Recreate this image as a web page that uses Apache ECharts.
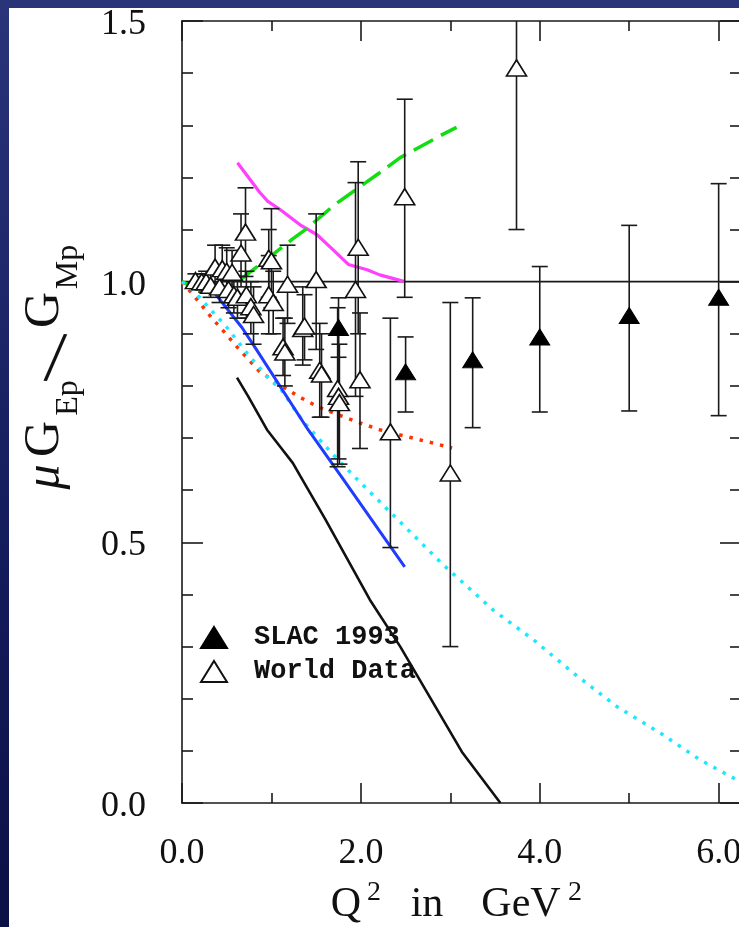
<!DOCTYPE html>
<html><head><meta charset="utf-8">
<script src="https://cdn.jsdelivr.net/npm/echarts@6/dist/echarts.min.js"></script>
<style>
html,body{margin:0;padding:0;width:739px;height:927px;overflow:hidden;}
body{background:linear-gradient(180deg,#2a3479 0%,#161d5e 55%,#0b1045 100%);}
#paper{position:absolute;left:9px;top:8px;right:0;bottom:0;background:#fff;}
#chart{position:absolute;left:0;top:0;width:739px;height:927px;}
</style></head><body>
<div id="paper"></div><div id="chart"></div>
<script>
// ---------- data ----------
const worldQ2    = [0.15,0.22,0.27,0.32,0.37,0.42,0.45,0.50,0.52,0.56,0.58,0.62,0.66,0.71,0.72,0.77,0.80,0.97,1.00,0.97,1.02,1.13,1.15,1.18,1.35,1.37,1.50,1.54,1.56,1.74,1.75,1.76,1.94,1.97,1.99,2.33,2.49,3.00,3.74];
const worldRatio = [1.002,1.000,1.000,0.993,1.028,0.990,1.025,1.020,0.985,1.018,0.975,0.970,1.055,1.095,0.975,0.952,0.937,1.045,1.040,0.975,0.960,0.875,0.865,0.995,0.910,0.915,1.004,0.830,0.823,0.795,0.780,0.768,0.985,1.066,0.812,0.712,1.163,0.633,1.410];
const worldLow   = [0.990,0.985,0.980,0.970,0.985,0.960,0.980,0.975,0.950,0.980,0.940,0.930,0.990,1.010,0.930,0.900,0.880,0.970,0.950,0.900,0.900,0.820,0.800,0.920,0.840,0.850,0.870,0.740,0.740,0.645,0.660,0.650,0.780,0.900,0.680,0.490,0.970,0.300,1.100];
const worldHigh  = [1.015,1.015,1.020,1.015,1.070,1.020,1.070,1.065,1.020,1.060,1.010,1.010,1.130,1.180,1.020,1.000,0.990,1.100,1.140,1.050,1.020,0.930,0.930,1.070,0.990,0.975,1.130,0.920,0.900,0.950,0.900,0.880,1.190,1.230,0.940,0.930,1.350,0.960,1.720];

const slacQ2    = [1.75,2.50,3.25,4.00,5.00,6.00];
const slacRatio = [0.912,0.827,0.850,0.894,0.935,0.970];
const slacLow   = [0.855,0.750,0.720,0.750,0.752,0.743];
const slacHigh  = [0.969,0.894,0.969,1.029,1.108,1.188];

const unityLine = [[0,1.0],[6.25,1.0]];
const curveMagenta = [[0.62,1.228],[0.87,1.171],[0.96,1.154],[1.10,1.138],[1.32,1.109],[1.51,1.090],[1.69,1.061],[1.86,1.033],[2.07,1.023],[2.21,1.013],[2.49,1.000]];
const curveGreen = [[0,1.0],[0.12,0.990],[0.235,0.985],[0.35,0.983],[0.50,0.990],[0.61,0.998],[0.70,1.010],[0.91,1.038],[1.23,1.081],[1.38,1.100],[1.58,1.129],[1.71,1.148],[1.90,1.171],[2.21,1.209],[2.44,1.238],[2.91,1.282],[3.07,1.296]];
const curveRed = [[0,1.0],[0.17,0.965],[0.26,0.946],[0.35,0.927],[0.43,0.912],[0.62,0.874],[0.87,0.827],[1.10,0.802],[1.30,0.780],[1.52,0.760],[1.74,0.745],[1.99,0.729],[2.21,0.716],[2.44,0.706],[2.72,0.694],[3.02,0.681]];
const curveCyan = [[0,1.0],[0.11,0.985],[0.20,0.969],[0.29,0.952],[0.39,0.933],[0.48,0.917],[0.73,0.862],[0.98,0.812],[1.10,0.795],[1.35,0.733],[1.69,0.668],[1.94,0.624],[2.44,0.539],[2.92,0.457],[3.48,0.370],[3.93,0.313],[4.37,0.250],[4.87,0.184],[5.35,0.134],[5.79,0.083],[6.25,0.040]];
const curveBlue = [[0.31,0.990],[0.67,0.912],[0.82,0.873],[1.41,0.716],[1.79,0.624],[2.49,0.453]];
const curveBlack = [[0.615,0.816],[0.74,0.780],[0.95,0.716],[1.10,0.683],[1.24,0.652],[1.32,0.628],[1.60,0.545],[2.10,0.390],[2.44,0.300],[3.13,0.098],[3.56,0.0]];

const X_MIN = 0, X_MAX = 6.25, Y_MIN = 0, Y_MAX = 1.5;

// ---------- chart ----------
const chart = echarts.init(document.getElementById('chart'), null, {renderer:'canvas'});
const AX = '#1a1a1a';
const SERIF = '"Liberation Serif", "DejaVu Serif", serif';

function xAxisDef(pos, labels){
  return {
    type:'value', position:pos, min:X_MIN, max:X_MAX, interval:2,
    axisLine:{show:true, onZero:false, lineStyle:{color:AX, width:1.6}},
    axisTick:{show:true, inside:true, length:20, lineStyle:{color:AX, width:1.6}},
    minorTick:{show:true, splitNumber:2, length:10, lineStyle:{color:AX, width:1.6}},
    splitLine:{show:false}, minorSplitLine:{show:false},
    axisLabel:{show:labels, margin:33, fontFamily:SERIF, fontSize:36, color:'#111',
      showMaxLabel:false, showMinLabel:true, formatter:v=>v.toFixed(1)}
  };
}
function yAxisDef(pos, labels){
  return {
    type:'value', position:pos, min:Y_MIN, max:Y_MAX, interval:0.5,
    axisLine:{show:true, onZero:false, lineStyle:{color:AX, width:1.6}},
    axisTick:{show:true, inside:true, length:21, lineStyle:{color:AX, width:1.6}},
    minorTick:{show:true, splitNumber:5, length:11, lineStyle:{color:AX, width:1.6}},
    splitLine:{show:false}, minorSplitLine:{show:false},
    axisLabel:{show:labels, margin:36, color:'#111',
      showMaxLabel:true, showMinLabel:true,
      formatter:v=>'{n|'+v.toFixed(1)+'}',
      rich:{n:{fontFamily:SERIF, fontSize:36, color:'#111', padding:[7,0,0,0]}}}
  };
}

function renderErr(params, api){
  const x = api.value(0), lo = api.value(1), hi = api.value(2);
  const top = Math.min(hi, Y_MAX), bot = Math.max(lo, Y_MIN);
  const a = api.coord([x, top]), b = api.coord([x, bot]);
  const w = 8;
  const st = {stroke:'#1a1a1a', lineWidth:1.6, fill:null};
  const ch = [{type:'line', shape:{x1:a[0],y1:a[1],x2:b[0],y2:b[1]}, style:st}];
  if (hi <= Y_MAX) ch.push({type:'line', shape:{x1:a[0]-w,y1:a[1],x2:a[0]+w,y2:a[1]}, style:st});
  if (lo >= Y_MIN) ch.push({type:'line', shape:{x1:b[0]-w,y1:b[1],x2:b[0]+w,y2:b[1]}, style:st});
  return {type:'group', children:ch};
}

function curve(name, data, color, width, type, cap){
  return {type:'line', name:name, data:data, showSymbol:false, symbol:'none', z:2, silent:true,
    lineStyle:{color:color, width:width, type:type||'solid', cap:cap||'butt'}, clip:true};
}

const titleStyle = (t, size, italic) => ({text:t, font:(italic?'italic ':'')+size+'px '+SERIF, fill:'#111', align:'center', verticalAlign:'middle', textAlign:'center', textVerticalAlign:'middle'});
const R = Math.PI/2;

const option = {
  animation:false,
  backgroundColor:'transparent',
  grid:{left:182, right:-2, top:21, bottom:124, containLabel:false, outerBoundsMode:'none'},
  xAxis:[xAxisDef('bottom', true), xAxisDef('top', false)],
  yAxis:[yAxisDef('left', true), yAxisDef('right', false)],
  legend:{
    data:[{name:'SLAC 1993'},{name:'World Data'}],
    orient:'vertical', left:200, top:624, padding:0, itemWidth:26, itemHeight:21, itemGap:7,
    icon:'triangle', selectedMode:false,
    textStyle:{fontFamily:'"Liberation Mono", "DejaVu Sans Mono", monospace', fontWeight:'bold', fontSize:27, color:'#111', padding:[0,0,0,22]}
  },
  graphic:[
    // y-axis title  μ G_Ep / G_Mp  (rotated)
    {type:'text', x:46, y:477, rotation:R, style:titleStyle('μ',50,true)},
    {type:'text', x:45, y:439, rotation:R, style:titleStyle('G',50)},
    {type:'text', x:69, y:398, rotation:R, style:titleStyle('Ep',32)},
    {type:'text', x:55, y:362, rotation:-0.08, style:titleStyle('/',72)},
    {type:'text', x:45, y:310, rotation:R, style:titleStyle('G',50)},
    {type:'text', x:69, y:267, rotation:R, style:titleStyle('Mp',32)},
    // x-axis title  Q² in GeV²
    {type:'text', x:346, y:905, style:titleStyle('Q',42)},
    {type:'text', x:374, y:893, style:titleStyle('2',28)},
    {type:'text', x:427, y:905, style:titleStyle('in',42)},
    {type:'text', x:521, y:905, style:titleStyle('GeV',42)},
    {type:'text', x:575, y:893, style:titleStyle('2',28)}
  ],
  series:[
    curve('unity', unityLine, '#1a1a1a', 1.6),
    curve('magenta', curveMagenta, '#ff40ff', 3.2),
    curve('green', curveGreen, '#11dd11', 3.5, [22,9]),
    curve('red', curveRed, '#ff3300', 3.5, [3.5,7]),
    curve('cyan', curveCyan, '#1ee8ff', 3.5, [3.5,7]),
    curve('blue', curveBlue, '#1f3cff', 3),
    curve('black', curveBlack, '#111111', 2.6),
    {type:'custom', name:'World err', renderItem:renderErr, z:3, silent:true,
      encode:{x:0, y:[1,2]}, data:worldQ2.map((q,i)=>[q, worldLow[i], worldHigh[i]])},
    {type:'custom', name:'SLAC err', renderItem:renderErr, z:3, silent:true,
      encode:{x:0, y:[1,2]}, data:slacQ2.map((q,i)=>[q, slacLow[i], slacHigh[i]])},
    {type:'scatter', name:'World Data', symbol:'triangle', symbolSize:[20,16], z:4,
      itemStyle:{color:'#ffffff', borderColor:'#111111', borderWidth:1.6, opacity:1},
      data:worldQ2.map((q,i)=>[q, worldRatio[i]])},
    {type:'scatter', name:'SLAC 1993', symbol:'triangle', symbolSize:[20,16], z:4,
      itemStyle:{color:'#000000', borderColor:'#000000', borderWidth:1, opacity:1},
      data:slacQ2.map((q,i)=>[q, slacRatio[i]])}
  ]
};
chart.setOption(option);
</script></body></html>
